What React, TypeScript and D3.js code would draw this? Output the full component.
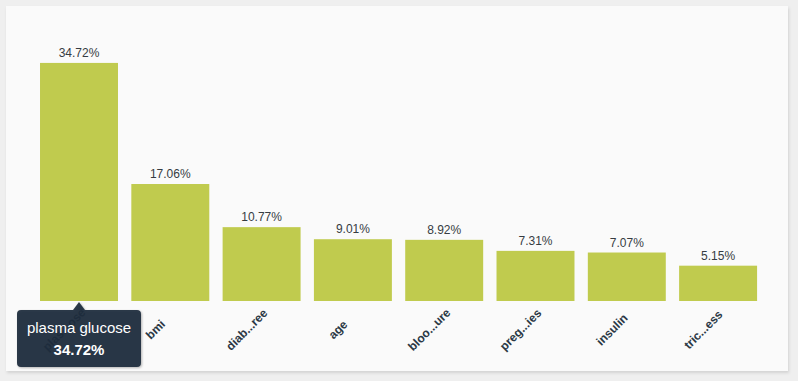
import React from "react";
import * as d3 from "d3";

const categories = ["plasma glucose", "bmi", "diabetes pedigree", "age", "blood pressure", "pregnancies", "insulin", "triceps thickness"];
const shortLabels = ["plas...ose", "bmi", "diab...ree", "age", "bloo...ure", "preg...ies", "insulin", "tric...ess"];
const values = [34.72, 17.06, 10.77, 9.01, 8.92, 7.31, 7.07, 5.15];
const tooltipIndex = 0;

const W = 798;
const H = 381;
const FONT = "'Liberation Sans', Arial, Helvetica, sans-serif";

export default function App() {
  const x = d3.scaleBand<string>().domain(categories).range([33.35, 763.75]).paddingInner(0.146).paddingOuter(0.073);
  const y = d3.scaleLinear().domain([0, 35]).range([301, 61]);
  const fmt = (v: number) => d3.format(".2f")(v) + "%";

  const tx = (x(categories[tooltipIndex]) ?? 0) + x.bandwidth() / 2;
  const tipTop = 302;
  const boxTop = 310;
  const boxL = 17;
  const boxR = 141;
  const boxB = 367;
  const r = 4;
  const tipPath = [
    `M${boxL + r},${boxTop}`,
    `L${tx - 6},${boxTop}`,
    `L${tx},${tipTop}`,
    `L${tx + 6},${boxTop}`,
    `L${boxR - r},${boxTop}`,
    `Q${boxR},${boxTop} ${boxR},${boxTop + r}`,
    `L${boxR},${boxB - r}`,
    `Q${boxR},${boxB} ${boxR - r},${boxB}`,
    `L${boxL + r},${boxB}`,
    `Q${boxL},${boxB} ${boxL},${boxB - r}`,
    `L${boxL},${boxTop + r}`,
    `Q${boxL},${boxTop} ${boxL + r},${boxTop}`,
    "Z",
  ].join(" ");

  return (
    <div style={{ position: "fixed", left: 0, top: 0, width: W, height: H }}>
      <svg width={W} height={H} style={{ display: "block", fontFamily: FONT }}>
        <defs>
          <filter id="sh" x="-10%" y="-10%" width="120%" height="130%">
            <feDropShadow dx="1" dy="2" stdDeviation="1.5" floodColor="#000" floodOpacity="0.12" />
          </filter>
          <filter id="tsh" x="-10%" y="-10%" width="130%" height="140%">
            <feDropShadow dx="1" dy="1" stdDeviation="1" floodColor="#000" floodOpacity="0.3" />
          </filter>
        </defs>
        <rect x={0} y={0} width={W} height={H} fill="#efefef" />
        <rect x={6} y={6} width={782} height={365} fill="#fafafa" filter="url(#sh)" />
        <g>
          {categories.map((c, i) => (
            <rect
              key={c}
              x={x(c)}
              y={y(values[i])}
              width={x.bandwidth()}
              height={y(0) - y(values[i])}
              fill="#c0cb4e"
            />
          ))}
        </g>
        <g fontSize={12} fill="#363c42" textAnchor="middle">
          {categories.map((c, i) => (
            <text key={c} x={(x(c) ?? 0) + x.bandwidth() / 2} y={y(values[i]) - 6}>
              {fmt(values[i])}
            </text>
          ))}
        </g>
        <g fontSize={12} fontWeight="bold" fill="#2b3845" textAnchor="middle">
          {categories.map((c, i) => (
            <text
              key={c}
              transform={`translate(${(x(c) ?? 0) + x.bandwidth() / 2 - 12},${332.5}) rotate(-45)`}
            >
              {shortLabels[i]}
            </text>
          ))}
        </g>
        <g filter="url(#tsh)">
          <path d={tipPath} fill="#1e2c3c" fillOpacity={0.93} />
        </g>
        <text x={tx} y={333} textAnchor="middle" fill="#ffffff" fontSize={15}>
          {categories[tooltipIndex]}
        </text>
        <text x={tx} y={355} textAnchor="middle" fill="#ffffff" fontSize={15} fontWeight="bold">
          {fmt(values[tooltipIndex])}
        </text>
      </svg>
    </div>
  );
}
